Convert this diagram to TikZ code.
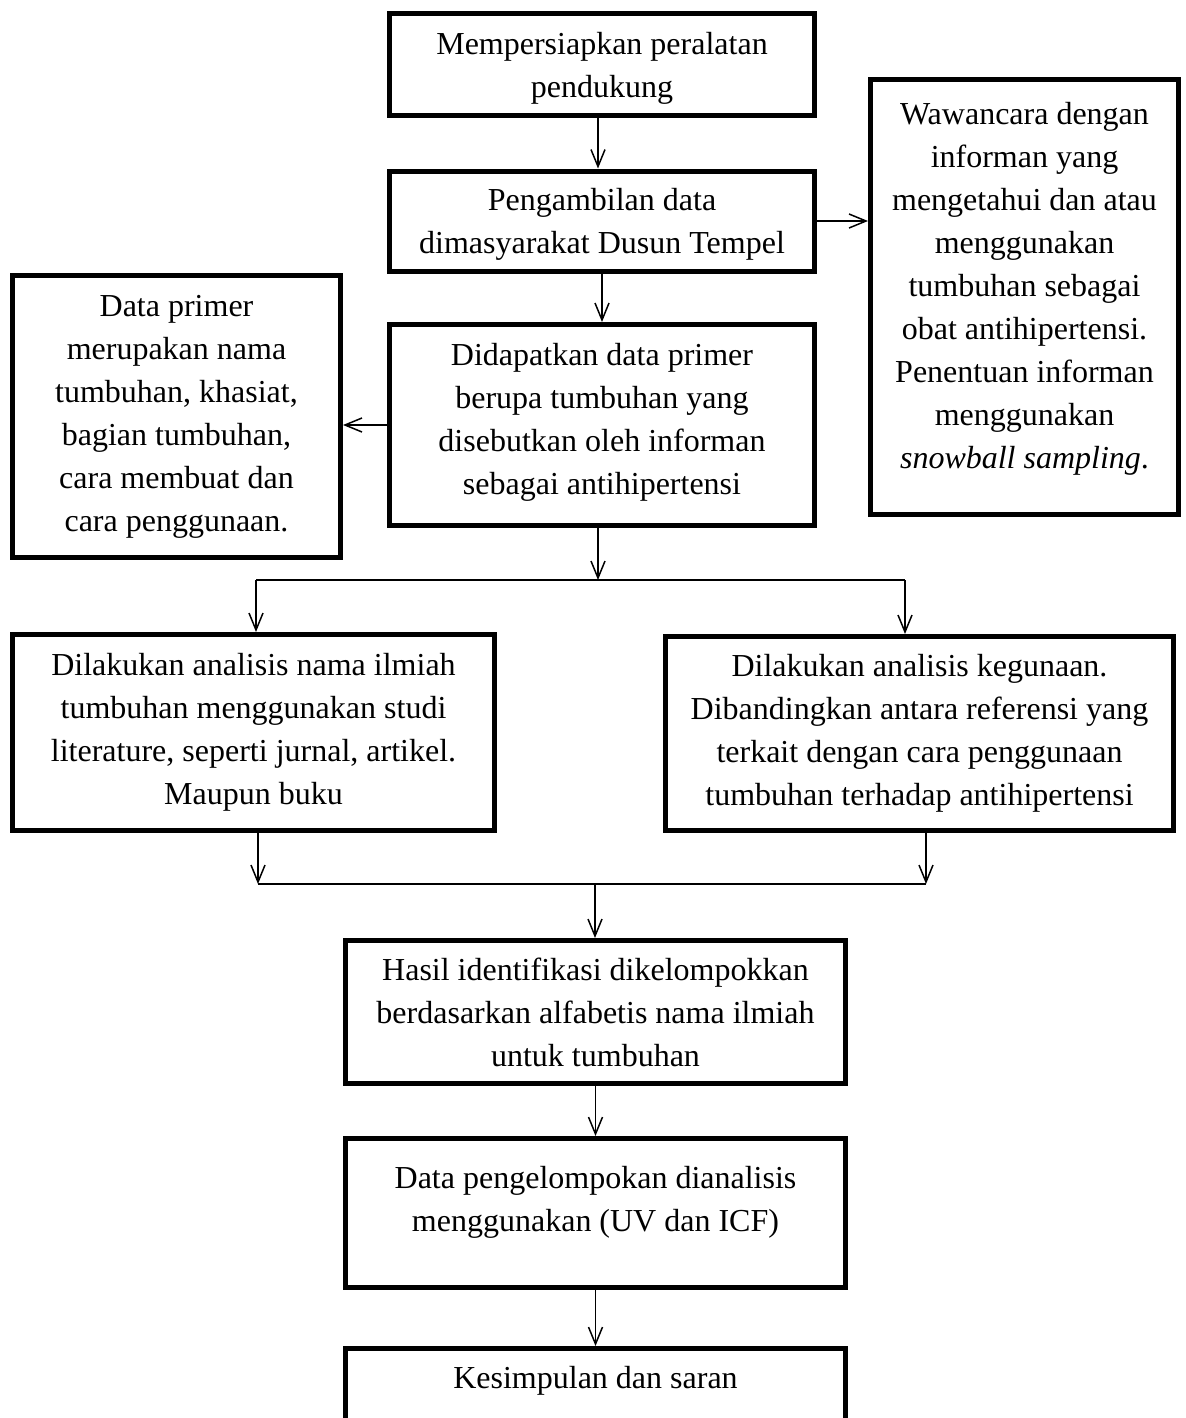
\documentclass[tikz,border=0pt]{standalone}
\usepackage{fontspec}
\setmainfont{Liberation Serif}
\usetikzlibrary{arrows.meta,positioning}

\begin{document}
\begin{tikzpicture}[x=0.5pt, y=-0.5pt,
    kotak/.style = {rectangle, draw, line width=2.5pt,
                    minimum width=#1, align=center,
                    inner sep=0pt, text depth=0pt,
                    font=\fontsize{16}{21.5}\selectfont},
    panah/.style = {-{Straight Barb[length=8.5pt,width=7pt]}, line width=0.75pt},
    garis/.style = {line width=0.75pt}
                    ]

    \useasboundingbox (0,0) rectangle (1185,1418);

    % kolom tengah
    \node (mulai) [kotak=212.5pt, minimum height=51pt] at (602,65)
        {Mempersiapkan peralatan\\ pendukung};
    \node (ambil) [kotak=212.5pt, minimum height=50pt] at (602,221)
        {Pengambilan data\\ dimasyarakat Dusun Tempel};
    \node (didapat) [kotak=212.5pt, minimum height=100.5pt, text depth=6pt] at (602,425)
        {Didapatkan data primer\\ berupa tumbuhan yang\\ disebutkan oleh informan\\ sebagai antihipertensi};

    % samping
    \node (wawancara) [kotak=154pt, minimum height=217.5pt, text depth=12pt] at (1024.5,297)
        {Wawancara dengan\\ informan yang\\ mengetahui dan atau\\ menggunakan\\ tumbuhan sebagai\\
         obat antihipertensi.\\ Penentuan informan\\ menggunakan\\ \textit{snowball sampling}.};
    \node (primer) [kotak=164pt, minimum height=141pt, text depth=3.5pt] at (176.5,416.5)
        {Data primer\\ merupakan nama\\ tumbuhan, khasiat,\\ bagian tumbuhan,\\ cara membuat dan\\ cara penggunaan.};

    % analisis
    \node (ilmiah) [kotak=241pt, minimum height=98pt, text depth=4pt] at (253.5,732.5)
        {Dilakukan analisis nama ilmiah\\ tumbuhan menggunakan studi\\ literature, seperti jurnal, artikel.\\ Maupun buku};
    \node (guna) [kotak=254pt, minimum height=97pt, text depth=4pt] at (919.5,733.5)
        {Dilakukan analisis kegunaan.\\ Dibandingkan antara referensi yang\\ terkait dengan cara penggunaan\\ tumbuhan terhadap antihipertensi};

    % bawah
    \node (hasil) [kotak=250pt, minimum height=71.5pt] at (595.5,1012)
        {Hasil identifikasi dikelompokkan\\ berdasarkan alfabetis nama ilmiah\\ untuk tumbuhan};
    \node (uji) [kotak=250pt, minimum height=74.5pt, text depth=14pt] at (595.5,1213)
        {Data pengelompokan dianalisis\\ menggunakan (UV dan ICF)};
    \node (simpulan) [kotak=250pt, minimum height=71.5pt, text depth=43pt] at (595.5,1420)
        {Kesimpulan dan saran};

    \coordinate (pisahL) at (256,580);
    \coordinate (pisahR) at (905,580);
    \coordinate (pisahM) at (598,580);
    \coordinate (gabungL) at (258,884);
    \coordinate (gabungR) at (926,884);
    \coordinate (gabungM) at (595,884);

    \draw[panah] ([xshift=-2pt]mulai.south) -- ([xshift=-2pt]ambil.north);
    \draw[panah] (ambil) -- (didapat);
    \draw[panah] (ambil) -- (wawancara.west |- ambil);
    \draw[panah] (didapat) -- (primer.east |- didapat);

    \draw[panah] (didapat.south -| pisahM) -- (pisahM);
    \draw[garis] (pisahL) -- (pisahR);
    \draw[panah] (pisahL) -- (pisahL |- ilmiah.north);
    \draw[panah] (pisahR) -- (pisahR |- guna.north);

    \draw[panah] (gabungL |- ilmiah.south) -- (gabungL);
    \draw[panah] (gabungR |- guna.south) -- (gabungR);
    \draw[garis] (gabungL) -- (gabungR);
    \draw[panah] (gabungM) -- (gabungM |- hasil.north);

    \draw[panah] (hasil) -- (uji);
    \draw[panah] (uji) -- (simpulan);
\end{tikzpicture}
\end{document}
